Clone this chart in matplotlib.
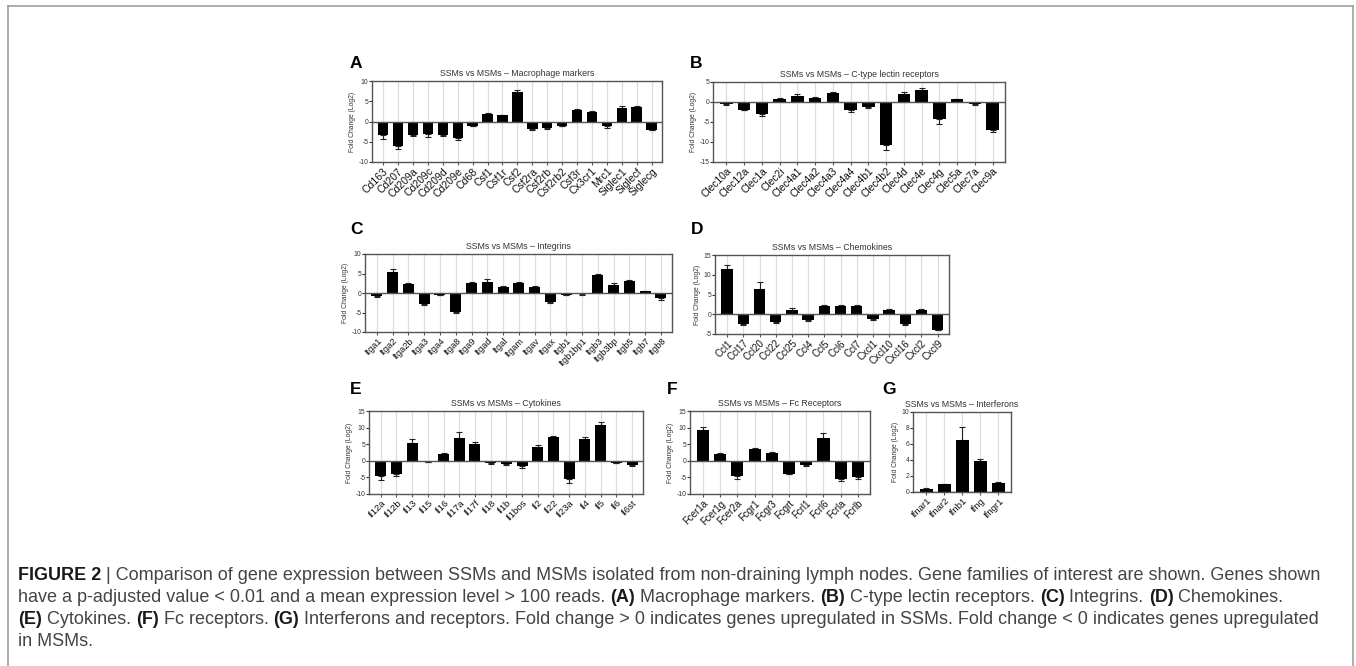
import matplotlib
matplotlib.use("Agg")
import matplotlib.pyplot as plt
from matplotlib.lines import Line2D
import numpy as np

plt.rcParams['font.family'] = ['Liberation Sans', 'DejaVu Sans']
plt.rcParams['axes.unicode_minus'] = False

W, H = 1356, 666

# (A) Macrophage markers
a_genes = ["Cd163", "Cd207", "Cd209a", "Cd209c", "Cd209d", "Cd209e", "Cd68", "Csf1", "Csf1r", "Csf2",
           "Csf2ra", "Csf2rb", "Csf2rb2", "Csf3r", "Cx3cr1", "Mrc1", "Siglec1", "Siglecf", "Siglecg"]
a_fc = [-3.3, -6.0, -3.3, -3.2, -3.4, -4.0, -1.0, 1.8, 1.5, 7.4,
        -1.8, -1.6, -1.0, 2.9, 2.3, -1.2, 3.3, 3.6, -2.0]
a_err = [1.0, 0.8, 0.2, 0.6, 0.2, 0.6, 0.2, 0.2, 0.2, 0.4,
         0.2, 0.2, 0.2, 0.2, 0.2, 0.4, 0.5, 0.3, 0.2]

# (B) C-type lectin receptors
b_genes = ["Clec10a", "Clec12a", "Clec1a", "Clec2i", "Clec4a1", "Clec4a2", "Clec4a3", "Clec4a4",
           "Clec4b1", "Clec4b2", "Clec4d", "Clec4e", "Clec4g", "Clec5a", "Clec7a", "Clec9a"]
b_fc = [-0.5, -1.9, -3.0, 0.8, 1.6, 1.0, 2.3, -1.9, -1.3, -10.8, 2.0, 3.1, -4.2, 0.7, -0.6, -7.1]
b_err = [0.2, 0.2, 0.6, 0.2, 0.4, 0.3, 0.2, 0.5, 0.3, 1.3, 0.5, 0.3, 1.4, 0.1, 0.2, 0.3]

# (C) Integrins
c_genes = ["Itga1", "Itga2", "Itga2b", "Itga3", "Itga4", "Itga8", "Itga9", "Itgad", "Itgal", "Itgam",
           "Itgav", "Itgax", "Itgb1", "Itgb1bp1", "Itgb3", "Itgb3bp", "Itgb5", "Itgb7", "Itgb8"]
c_fc = [-0.8, 5.3, 2.2, -2.8, -0.4, -4.8, 2.5, 2.9, 1.5, 2.6,
        1.6, -2.3, -0.4, -0.3, 4.6, 2.1, 3.0, 0.4, -1.4]
c_err = [0.2, 0.8, 0.3, 0.2, 0.1, 0.2, 0.4, 0.6, 0.2, 0.2,
         0.2, 0.2, 0.1, 0.1, 0.2, 0.5, 0.3, 0.1, 0.5]

# (D) Chemokines
d_genes = ["Ccl1", "Ccl17", "Ccl20", "Ccl22", "Ccl25", "Ccl4", "Ccl5", "Ccl6", "Ccl7",
           "Cxcl1", "Cxcl10", "Cxcl16", "Cxcl2", "Cxcl9"]
d_fc = [11.4, -2.5, 6.4, -1.9, 1.1, -1.4, 2.1, 2.1, 2.1, -1.2, 1.2, -2.5, 1.2, -3.9]
d_err = [1.1, 0.2, 1.8, 0.2, 0.5, 0.2, 0.2, 0.2, 0.2, 0.2, 0.2, 0.3, 0.2, 0.2]

# (E) Cytokines
e_genes = ["Il12a", "Il12b", "Il13", "Il15", "Il16", "Il17a", "Il17f", "Il18", "Il1b", "Il1bos",
           "Il2", "Il22", "Il23a", "Il4", "Il5", "Il6", "Il6st"]
e_fc = [-4.6, -4.1, 5.4, -0.4, 2.0, 7.0, 5.1, -0.8, -1.1, -1.7,
        4.1, 7.3, -5.6, 6.5, 10.7, -0.6, -1.4]
e_err = [1.2, 0.6, 1.2, 0.1, 0.2, 1.7, 0.5, 0.2, 0.2, 0.4,
         0.6, 0.3, 1.1, 0.7, 1.0, 0.2, 0.2]

# (F) Fc receptors
f_genes = ["Fcer1a", "Fcer1g", "Fcer2a", "Fcgr1", "Fcgr3", "Fcgrt", "Fcrl1", "Fcrl6", "Fcrla", "Fcrlb"]
f_fc = [9.3, 2.0, -4.6, 3.5, 2.5, -3.9, -1.3, 7.0, -5.6, -4.9]
f_err = [1.0, 0.2, 0.8, 0.3, 0.2, 0.2, 0.3, 1.5, 0.4, 0.7]

# (G) Interferons
g_genes = ["Ifnar1", "Ifnar2", "Ifnb1", "Ifng", "Ifngr1"]
g_fc = [0.38, 0.96, 6.5, 3.9, 1.08]
g_err = [0.15, 0.1, 1.6, 0.25, 0.12]

fig = plt.figure(figsize=(W / 100, H / 100), dpi=100)
fig.patch.set_facecolor("white")


def px_axes(left, top, right, bottom):
    return fig.add_axes([left / W, 1 - bottom / H, (right - left) / W, (bottom - top) / H])


def panel(box, letter, letter_xy, title, genes, fc, err, ylim, yticks, xfont=7.2):
    ax = px_axes(*box)
    x = np.arange(len(genes))
    fc = np.array(fc)
    err = np.array(err)
    lower = np.where(fc < 0, err, 0)
    upper = np.where(fc >= 0, err, 0)
    ax.errorbar(x, fc, yerr=[lower, upper], fmt="none", ecolor="#222222",
                elinewidth=0.8, capsize=2.5, capthick=0.8, zorder=2)
    ax.bar(x, fc, width=0.7, color="black", zorder=3)
    for xi in x:
        ax.axvline(xi, color="#dddddd", lw=0.9, zorder=1)
    ax.axhline(0, color="#555555", lw=1.0, zorder=4)
    ax.set_xlim(-0.75, len(genes) - 0.3)
    ax.set_ylim(*ylim)
    ax.set_yticks(yticks)
    ax.set_xticks(x)
    ax.set_xticklabels(genes, rotation=45, ha="right", rotation_mode="anchor",
                       fontsize=xfont, color="#111111")
    ax.tick_params(axis="y", labelsize=4.9, length=2, width=0.8, pad=0.5, colors="#333333")
    ax.tick_params(axis="x", length=2, width=0.8, pad=1, color="#555555")
    for s in ax.spines.values():
        s.set_color("#555555")
        s.set_linewidth(1.0)
    ax.set_ylabel("Fold Change (Log2)", fontsize=4.9, color="#333333", labelpad=2)
    ax.set_title(title, fontsize=6.3, color="#333333", pad=3.5)
    fig.text(letter_xy[0] / W, 1 - letter_xy[1] / H, letter, fontsize=12.5,
             fontweight="bold", ha="left", va="center")
    return ax


panel((372, 81, 662, 162), "A", (350, 64), "SSMs vs MSMs \u2013 Macrophage markers",
      a_genes, a_fc, a_err, (-10, 10), [-10, -5, 0, 5, 10], xfont=7.6)
panel((713, 82, 1005, 162), "B", (690, 64), "SSMs vs MSMs \u2013 C-type lectin receptors",
      b_genes, b_fc, b_err, (-15, 5), [-15, -10, -5, 0, 5], xfont=7.4)
panel((365, 254, 672, 332), "C", (350, 229), "SSMs vs MSMs \u2013 Integrins",
      c_genes, c_fc, c_err, (-10, 10), [-10, -5, 0, 5, 10], xfont=6.6)
panel((715, 255, 949, 334), "D", (691, 229), "SSMs vs MSMs \u2013 Chemokines",
      d_genes, d_fc, d_err, (-5, 15), [-5, 0, 5, 10, 15], xfont=7.0)
panel((369, 411, 643, 494), "E", (350, 389), "SSMs vs MSMs \u2013 Cytokines",
      e_genes, e_fc, e_err, (-10, 15), [-10, -5, 0, 5, 10, 15], xfont=6.8)
panel((690, 411, 870, 494), "F", (667, 389), "SSMs vs MSMs \u2013 Fc Receptors",
      f_genes, f_fc, f_err, (-10, 15), [-10, -5, 0, 5, 10, 15], xfont=7.0)
panel((913, 412, 1011, 492), "G", (882, 389), "SSMs vs MSMs \u2013 Interferons",
      g_genes, g_fc, g_err, (0, 10), [0, 2, 4, 6, 8, 10], xfont=6.8)

# outer frame
for xs, ys in [([8, 8], [6, H]), ([8, 1353], [6, 6]), ([1353, 1353], [6, H])]:
    fig.add_artist(Line2D([v / W for v in xs], [1 - v / H for v in ys],
                          color="#a0a0a0", lw=1.2, transform=fig.transFigure))

# caption
caption = [
    [("FIGURE 2", True), (" | Comparison of gene expression between SSMs and MSMs isolated from "
                          "non-draining lymph nodes. Gene families of interest are shown. Genes shown", False)],
    [("have a p-adjusted value < 0.01 and a mean expression level > 100 reads. ", False), ("(A)", True),
     (" Macrophage markers. ", False), ("(B)", True), (" C-type lectin receptors. ", False), ("(C)", True),
     (" Integrins. ", False), ("(D)", True), (" Chemokines.", False)],
    [("(E)", True), (" Cytokines. ", False), ("(F)", True), (" Fc receptors. ", False), ("(G)", True),
     (" Interferons and receptors. Fold change > 0 indicates genes upregulated in SSMs. "
      "Fold change < 0 indicates genes upregulated", False)],
    [("in MSMs.", False)],
]
cap_size = 12.95
renderer = fig.canvas.get_renderer()


def text_width(s, bold):
    t = fig.text(0, 0, s + "|", fontsize=cap_size, fontweight="bold" if bold else "normal")
    t2 = fig.text(0, 0, "|", fontsize=cap_size, fontweight="bold" if bold else "normal")
    w = t.get_window_extent(renderer).width - t2.get_window_extent(renderer).width
    t.remove()
    t2.remove()
    return w


line_y = [576, 598, 620, 642]
for segs, y in zip(caption, line_y):
    x = 18
    for s, bold in segs:
        fig.text(x / W, 1 - y / H, s, fontsize=cap_size,
                 fontweight="bold" if bold else "normal",
                 color="#1a1a1a" if bold else "#444444", ha="left", va="center")
        x += text_width(s, bold)

fig.savefig("out.png", dpi=100, facecolor="white")
